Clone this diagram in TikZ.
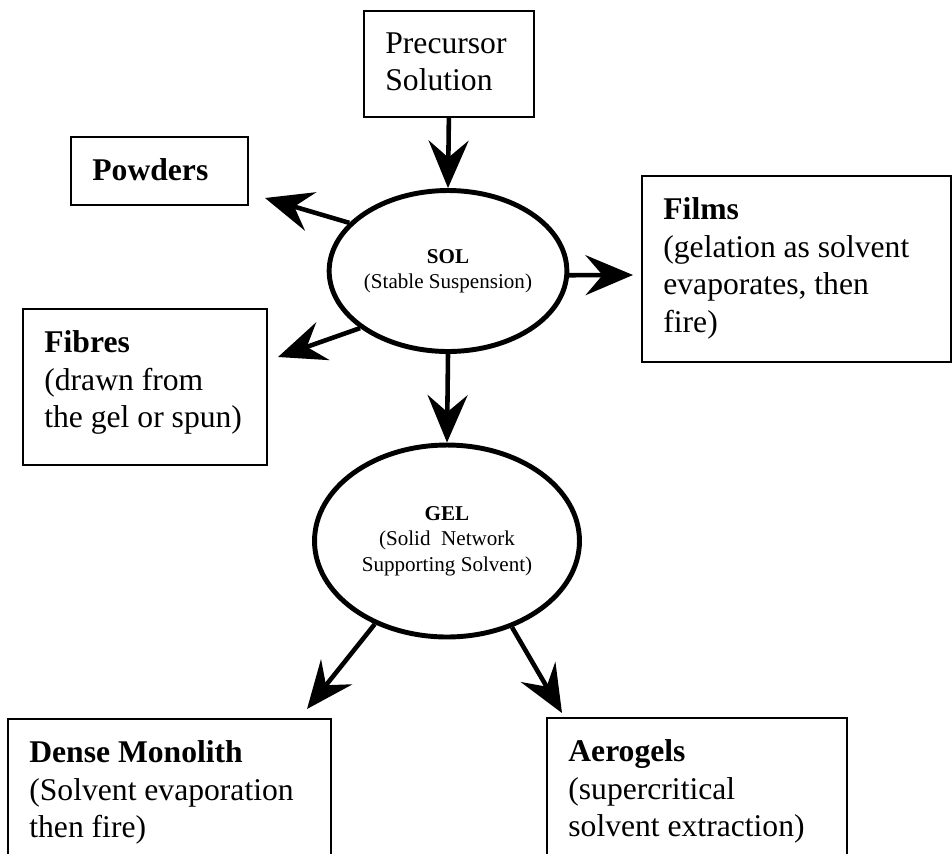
\documentclass[tikz,border=0pt]{standalone}
\usepackage{fontspec}
\setmainfont{Liberation Serif}
\usetikzlibrary{shapes.geometric,arrows.meta}

% padding inside the product boxes
\newlength{\boxpad}\setlength{\boxpad}{0.43cm}
% box body: width, height, text (top-left aligned)
\newcommand{\boxbody}[3]{\parbox[t][#2][t]{#1}{\fontsize{18}{21.5}\selectfont\vspace*{\boxpad}\leftskip=\boxpad\rightskip=0pt plus 1fil #3}}

\begin{document}
\begin{tikzpicture}[x=0.02cm,y=-0.02cm,>=Stealth]
	%---------------- Styles ----------------
	\tikzset{
		stage/.style={draw, line width=1pt, rectangle, anchor=north west, inner sep=0pt}, % product boxes
		phase/.style={draw, ellipse, line width=2.8pt, inner sep=0pt, align=center,
			font=\fontsize{12}{14.5}\selectfont},                                      % sol / gel
		flow/.style={line width=2.6pt, -{Stealth[length=0.95cm,width=0.8cm,inset=0.34cm]}}, % arrows
	}
	
	% page frame (bottom boxes are cut off)
	\clip (0,0) rectangle (952,853);
	
	%---------------- Phases ----------------
	\node[phase, minimum width=4.06cm, minimum height=3.22cm] (sol) at (448,271)
		{\textbf{SOL}\\(Stable Suspension)};
	\node[phase, minimum width=5.30cm, minimum height=3.84cm] (gel) at (447,541)
		{\textbf{GEL}\\(Solid~ Network\\Supporting Solvent)};
	
	%---------------- Boxes ----------------
	\node[stage] (pre)   at (363,10)  {\boxbody{3.40cm}{2.12cm}{Precursor\\Solution}};
	\node[stage] (pow)   at (70,136)  {\boxbody{3.54cm}{1.36cm}{\textbf{Powders}}};
	\node[stage] (fib)   at (22,308)  {\boxbody{4.88cm}{3.12cm}{\textbf{Fibres}\\(drawn from\\the gel or spun)}};
	\node[stage] (film)  at (641,175) {\boxbody{6.18cm}{3.72cm}{\textbf{Films}\\(gelation as solvent\\evaporates, then\\fire)}};
	\node[stage] (dense) at (7,718)   {\boxbody{6.46cm}{3.40cm}{\textbf{Dense Monolith}\\(Solvent evaporation\\then fire)}};
	\node[stage] (aero)  at (546,717) {\boxbody{6.00cm}{3.40cm}{\textbf{Aerogels}\\(supercritical\\solvent extraction)}};
	
	%---------------- Arrow tips ----------------
	\coordinate (powtip)   at (265,198);
	\coordinate (fibtip)   at (278,357);
	\coordinate (filmtip)  at (633,275);
	\coordinate (densetip) at (307,709);
	\coordinate (aerotip)  at (562,713);
	
	%---------------- Arrows ----------------
	\draw[flow] (pre.south) -- (sol.north);
	\draw[flow] (sol.154) -- (powtip);
	\draw[flow] (sol.213) -- (fibtip);
	\draw[flow] (sol.-2)  -- (filmtip);
	\draw[flow] (sol.south) -- (gel.north);
	\draw[flow] (gel.229) -- (densetip);
	\draw[flow] (gel.307) -- (aerotip);
\end{tikzpicture}
\end{document}
